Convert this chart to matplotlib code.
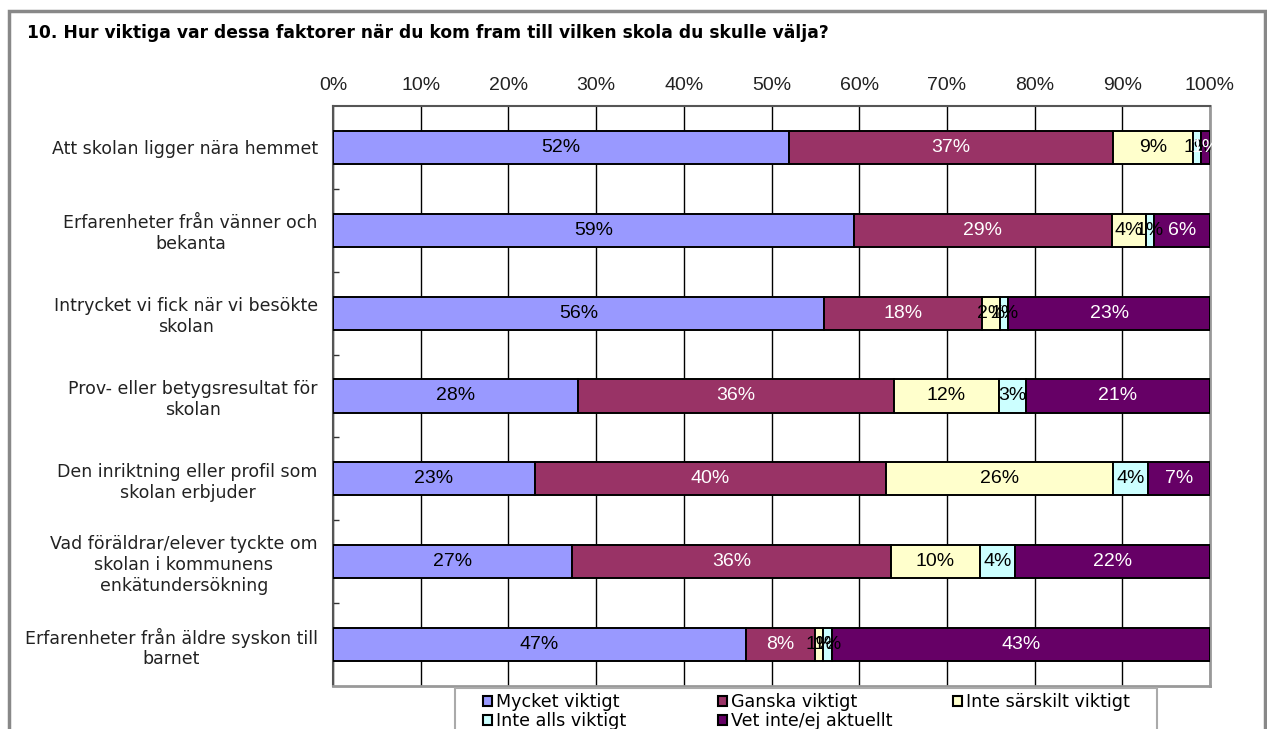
import matplotlib
matplotlib.use("Agg")
import matplotlib.pyplot as plt
from matplotlib.patches import Rectangle
import numpy as np

categories = [
    "Att skolan ligger nära hemmet",
    "Erfarenheter från vänner och\nbekanta",
    "Intrycket vi fick när vi besökte\nskolan",
    "Prov- eller betygsresultat för\nskolan",
    "Den inriktning eller profil som\nskolan erbjuder",
    "Vad föräldrar/elever tyckte om\nskolan i kommunens\nenkätundersökning",
    "Erfarenheter från äldre syskon till\nbarnet",
]
series_names = ["Mycket viktigt", "Ganska viktigt", "Inte särskilt viktigt",
                "Inte alls viktigt", "Vet inte/ej aktuellt"]
mycket = [52.0, 59.4, 56.0, 27.9, 23.0, 27.3, 47.1]
ganska = [36.9, 29.4, 18.0, 36.1, 40.1, 36.3, 7.9]
inte_sarskilt = [9.2, 3.9, 2.1, 11.9, 25.8, 10.2, 0.9]
inte_alls = [0.9, 0.9, 0.9, 3.1, 4.0, 4.0, 1.0]
vet_inte = [1.0, 6.4, 23.0, 21.0, 7.1, 22.2, 43.1]
series = [mycket, ganska, inte_sarskilt, inte_alls, vet_inte]
colors = ["#9999FF", "#993366", "#FFFFCC", "#CCFFFF", "#660066"]
text_colors = ["black", "white", "black", "black", "white"]
xticks = [0, 10, 20, 30, 40, 50, 60, 70, 80, 90, 100]
title = "10. Hur viktiga var dessa faktorer när du kom fram till vilken skola du skulle välja?"

W, H = 1267, 729
fig = plt.figure(figsize=(W / 100, H / 100), dpi=100)
ax = fig.add_axes([333 / W, 1 - 686 / H, (1210 - 333) / W, (686 - 106) / H])

y = np.arange(len(categories))
left = np.zeros(len(categories))
handles = []
for vals, c, tc, name in zip(series, colors, text_colors, series_names):
    vals = np.array(vals)
    bars = ax.barh(y, vals, left=left, height=0.4, color=c, edgecolor="black",
                   linewidth=1.4, label=name, zorder=3)
    handles.append(bars)
    for yi, (l, v) in enumerate(zip(left, vals)):
        ax.text(l + v / 2, yi, f"{v:.0f}%", ha="center", va="center",
                color=tc, fontsize=14, family="Liberation Sans", zorder=4)
    left += vals

ax.set_xlim(0, 100)
ax.set_ylim(len(categories) - 0.5, -0.5)
ax.set_xticks(xticks)
ax.set_xticklabels([f"{t}%" for t in xticks], family="Liberation Sans", fontsize=14,
                   color="#222222")
ax.xaxis.tick_top()
ax.tick_params(axis="x", length=0, pad=9)
ax.set_yticks(y)
ax.set_yticklabels(categories, fontsize=12.5, color="#222222", multialignment="center")
ax.tick_params(axis="y", which="major", length=0, pad=11)
ax.set_yticks(np.arange(0.5, len(categories) - 0.5, 1), minor=True)
ax.tick_params(axis="y", which="minor", direction="in", length=4, width=1, color="#333333")
ax.grid(axis="x", color="black", linewidth=1, zorder=0)
for s in ["top", "left"]:
    ax.spines[s].set_color("#555555")
    ax.spines[s].set_linewidth(1.5)
for s in ["right", "bottom"]:
    ax.spines[s].set_color("#999999")
    ax.spines[s].set_linewidth(2)

fig.text(27 / W, 1 - 33 / H, title, fontsize=12.3, fontweight="bold", va="center", ha="left")

# outer frame
fig.patches.append(Rectangle((9 / W, -0.05), (1265 - 9) / W, 1 - 11 / H + 0.05,
                             transform=fig.transFigure, fill=False,
                             edgecolor="#888888", linewidth=2.5))

# legend frame + three legend columns
fig.patches.append(Rectangle((455 / W, -0.05), (1157 - 455) / W, 1 - 688 / H + 0.05,
                             transform=fig.transFigure, fill=False,
                             edgecolor="#aaaaaa", linewidth=1.5, zorder=5))
columns = [([0, 3], 483), ([1, 4], 718), ([2], 953)]
for idx, xpos in columns:
    leg = fig.legend([handles[i] for i in idx], [series_names[i] for i in idx],
                     loc="upper left", bbox_to_anchor=(xpos / W, 1 - 693 / H),
                     frameon=False, fontsize=12.6,
                     handlelength=0.5, handleheight=0.5, handletextpad=0.25,
                     borderpad=0, borderaxespad=0, labelspacing=0.05)
    for h in leg.legend_handles:
        h.set_linewidth(1.5)

fig.savefig("out.png", dpi=100)
